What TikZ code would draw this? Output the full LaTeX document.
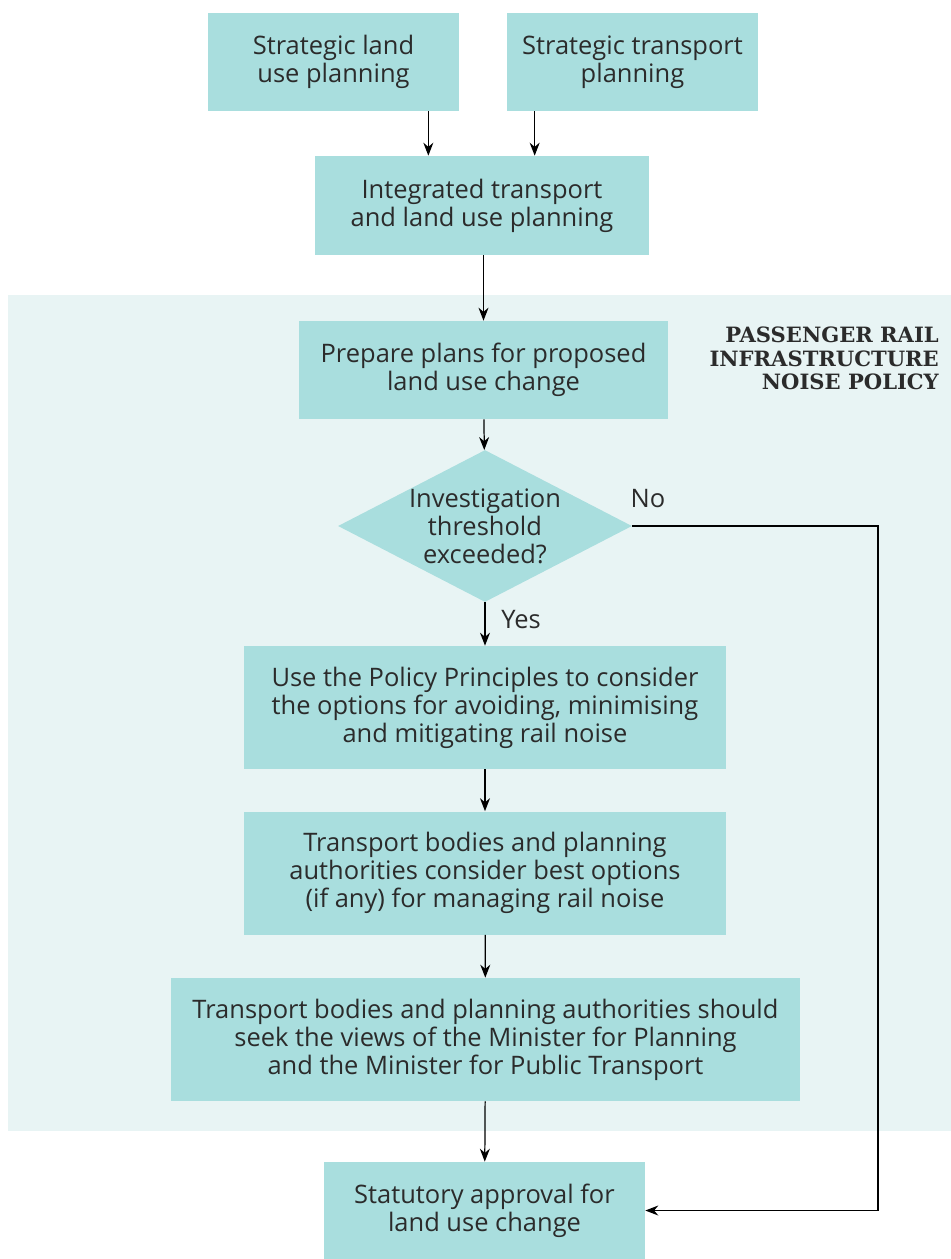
\documentclass[tikz,border=0pt]{standalone}
\usepackage{fontspec}
\setmainfont{Open Sans}
\newfontfamily\slabfont{DejaVu Serif}
\usepackage{tikz}
\usetikzlibrary{shapes.geometric,arrows.meta}

\definecolor{boxfill}{HTML}{A9DEDE}
\definecolor{panelfill}{HTML}{E8F4F4}
\definecolor{inktext}{HTML}{2B2B2B}

\tikzset{
	stepbox/.style={shape=rectangle,fill=boxfill,inner sep=0pt,align=center,
		text=inktext,font=\fontsize{14.5}{16}\selectfont},
	arr/.style={-{Stealth[length=2.6mm,width=2mm]},line width=0.7pt,draw=black},
	txt/.style={text=inktext,font=\fontsize{14.5}{16}\selectfont}
}

\begin{document}
\begin{tikzpicture}[x=0.02cm,y=-0.02cm]
	
	\useasboundingbox (0,0) rectangle (951,1259);
	\fill[panelfill] (8,295) rectangle (951,1131);
	\node[anchor=north east,align=right,text=inktext,font=\slabfont\bfseries\fontsize{12}{13.2}\selectfont] (pol) at (945,321) {PASSENGER RAIL\\INFRASTRUCTURE\\NOISE POLICY};
	
	\node[stepbox,minimum width=5.02cm,minimum height=1.96cm] (slu) at (333.5, 62)   {Strategic land\\use planning};
	\node[stepbox,minimum width=5.02cm,minimum height=1.96cm] (stp) at (632.5, 62)   {Strategic transport\\planning};
	\node[stepbox,minimum width=6.68cm,minimum height=1.98cm] (itp) at (482, 205.5)  {Integrated transport\\and land use planning};
	\node[stepbox,minimum width=7.38cm,minimum height=1.96cm] (pp)  at (483.5, 370)  {Prepare plans for proposed\\land use change};
	\node[shape=diamond,fill=boxfill,inner sep=0pt,minimum width=5.88cm,minimum height=3.04cm,
		label={[txt,align=center]center:Investigation\\threshold\\exceeded?}] (dec) at (485, 526) {};
	\node[stepbox,minimum width=9.64cm,minimum height=2.46cm] (upp) at (485, 707.5)  {Use the Policy Principles to consider\\the options for avoiding, minimising\\and mitigating rail noise};
	\node[stepbox,minimum width=9.64cm,minimum height=2.46cm] (tb)  at (485, 873)    {Transport bodies and planning\\authorities consider best options\\(if any) for managing rail noise};
	\node[stepbox,minimum width=12.58cm,minimum height=2.46cm] (sv) at (485.5, 1039.5) {Transport bodies and planning authorities should\\seek the views of the Minister for Planning\\and the Minister for Public Transport};
	\node[stepbox,minimum width=6.42cm,minimum height=1.94cm] (sa)  at (484.5, 1210.5) {Statutory approval for\\land use change};
	
	\node[txt] (no)  at (648, 499) {No};
	\node[txt] (yes) at (521, 620) {Yes};
	\coordinate (turn) at (878, 526);
	
	\draw[arr] ([xshift=-0.62cm]slu.south east) -- ([xshift=-0.62cm]slu.south east |- itp.north);
	\draw[arr] ([xshift=0.56cm]stp.south west) -- ([xshift=0.56cm]stp.south west |- itp.north);
	\draw[arr] (itp.south -| pp.north) -- (pp.north);
	\draw[arr] (pp) -- (dec);
	\draw[arr] (dec) -- (upp);
	\draw[arr] (upp) -- (tb);
	\draw[arr] (tb) -- (sv);
	\draw[arr] (sv) -- (sa);
	\draw[arr] (dec.east) -- (turn) |- (sa.east);
	
\end{tikzpicture}
\end{document}
